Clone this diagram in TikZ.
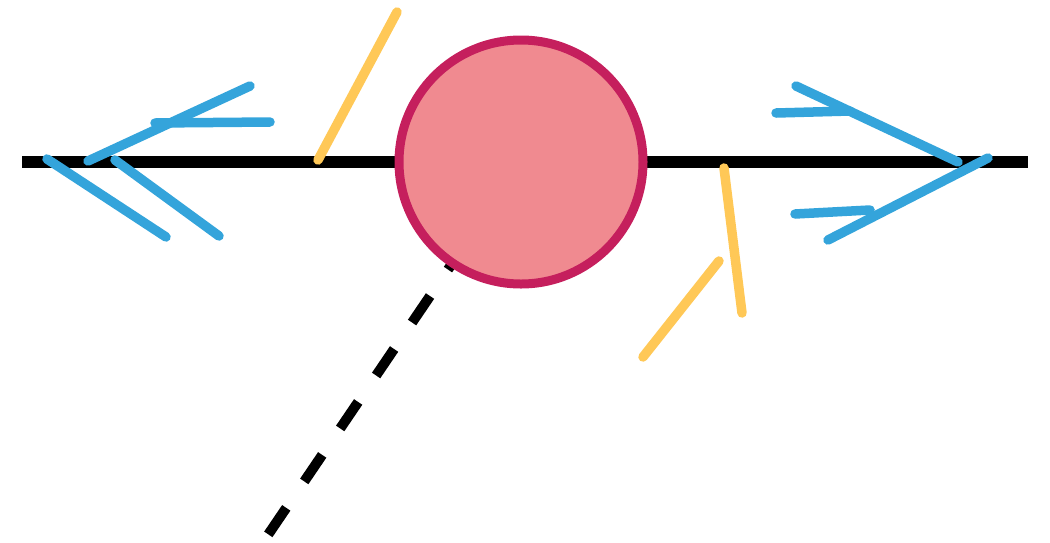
\documentclass[tikz,border=0pt]{standalone}
\usetikzlibrary{calc}
\definecolor{ballfill}{HTML}{F08A90}
\definecolor{balledge}{HTML}{C51F5D}
\definecolor{arrowblue}{HTML}{34A4DB}
\definecolor{forceyellow}{HTML}{FFC857}
\tikzset{
  axisline/.style={line width=12pt, black},
  bluestroke/.style={line width=9.5pt, arrowblue, line cap=round},
  yellowstroke/.style={line width=9.5pt, forceyellow, line cap=round},
  guideline/.style={line width=10pt, black, dash pattern=on 32pt off 32pt, dash phase=30pt},
  ball/.style={circle, minimum size=244pt, inner sep=0pt, fill=ballfill, draw=balledge, line width=9pt}
}
\begin{document}
\begin{tikzpicture}[x=1pt, y=-1pt]
\useasboundingbox (0,0) rectangle (1050,542);
% coordinates
\coordinate (c) at (521,162);
\coordinate (axL) at (22,162);
\coordinate (axR) at (1028,162);
\coordinate (dEnd) at (257,551);
% axis
\draw[axisline] (axL) -- (axR);
% dashed guide from ball center
\draw[guideline] (c) -- (dEnd);
% ball
\node[ball] (b) at (c) {};
% yellow strokes
\coordinate (y1a) at (397,12);
\coordinate (y1b) at (318,160);
\coordinate (y2a) at (724,168);
\coordinate (y2b) at (742,313);
\coordinate (y3a) at (719,261);
\coordinate (y3b) at (643,357);
\draw[yellowstroke] (y1a) -- (y1b);
\draw[yellowstroke] (y2a) -- (y2b);
\draw[yellowstroke] (y3a) -- (y3b);
% left blue double arrowhead
\coordinate (la1) at (250,86);
\coordinate (la2) at (88,161);
\coordinate (la3) at (270,122);
\coordinate (la4) at (155,123);
\coordinate (la5) at (47,159);
\coordinate (la6) at (166,237);
\coordinate (la7) at (115,160);
\coordinate (la8) at (219,236);
\draw[bluestroke] (la1) -- (la2);
\draw[bluestroke] (la3) -- (la4);
\draw[bluestroke] (la5) -- (la6);
\draw[bluestroke] (la7) -- (la8);
% right blue double arrowhead
\coordinate (ra1) at (796,86);
\coordinate (ra2) at (958,162);
\coordinate (ra3) at (776,113);
\coordinate (ra4) at (850,111);
\coordinate (ra5) at (988,158);
\coordinate (ra6) at (828,240);
\coordinate (ra7) at (795,214);
\coordinate (ra8) at (870,210);
\draw[bluestroke] (ra1) -- (ra2);
\draw[bluestroke] (ra3) -- (ra4);
\draw[bluestroke] (ra5) -- (ra6);
\draw[bluestroke] (ra7) -- (ra8);
\end{tikzpicture}
\end{document}
